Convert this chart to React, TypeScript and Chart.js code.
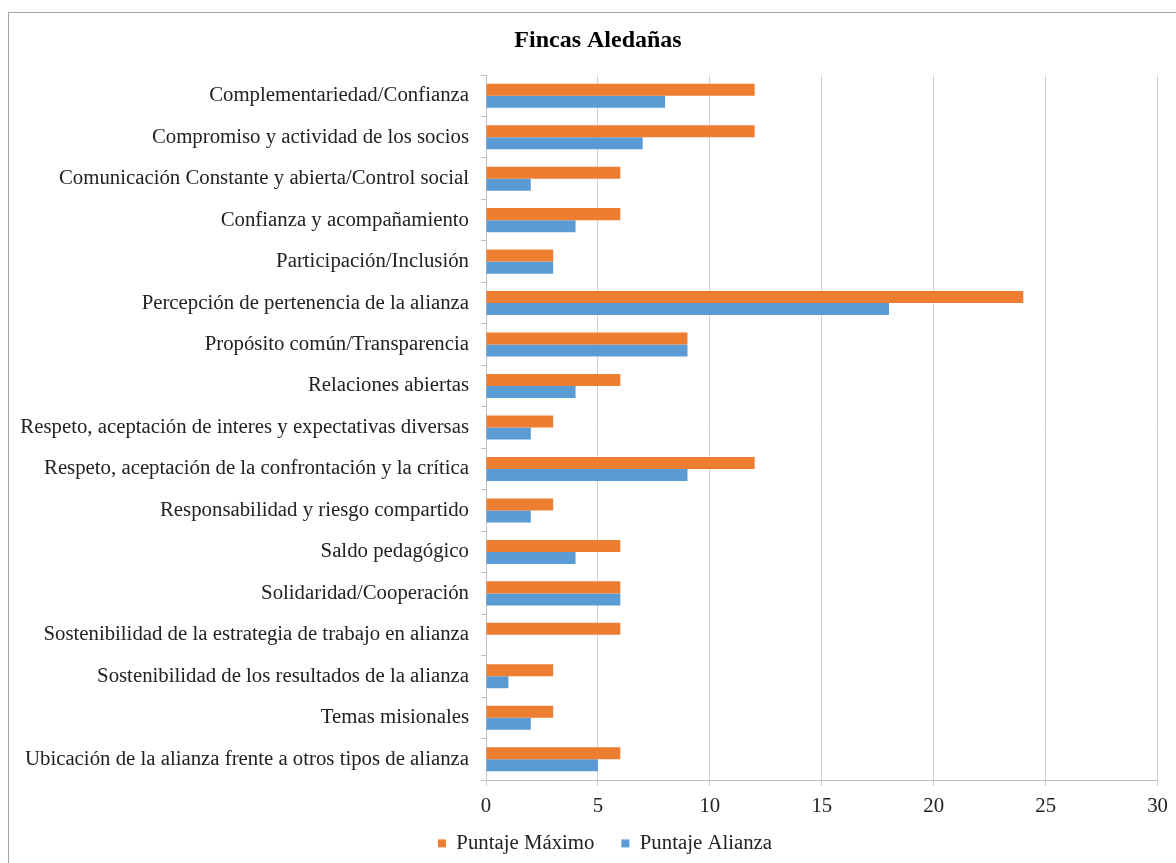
import React, { useEffect, useRef } from "react";
import { Chart, registerables } from "chart.js";

Chart.register(...registerables);

const chartTitle = "Fincas Aledañas";

const categories = [
  "Complementariedad/Confianza",
  "Compromiso y actividad de los socios",
  "Comunicación Constante y abierta/Control social",
  "Confianza y acompañamiento",
  "Participación/Inclusión",
  "Percepción de pertenencia de la alianza",
  "Propósito común/Transparencia",
  "Relaciones abiertas",
  "Respeto, aceptación de interes y expectativas diversas",
  "Respeto, aceptación de la confrontación y la crítica",
  "Responsabilidad y riesgo compartido",
  "Saldo pedagógico",
  "Solidaridad/Cooperación",
  "Sostenibilidad de la estrategia de trabajo en alianza",
  "Sostenibilidad de los resultados de la alianza",
  "Temas misionales",
  "Ubicación de la alianza frente a otros tipos de alianza",
];

const seriesNames = ["Puntaje Máximo", "Puntaje Alianza"];

const puntajeMaximo = [12, 12, 6, 6, 3, 24, 9, 6, 3, 12, 3, 6, 6, 6, 3, 3, 6];
const puntajeAlianza = [8, 7, 2, 4, 3, 18, 9, 4, 2, 9, 2, 4, 6, 0, 1, 2, 5];

const xMin = 0;
const xMax = 30;
const xStep = 5;

const FONT = '"Liberation Serif", "Times New Roman", serif';

const shiftPlugin = {
  id: "shiftBoxes",
  afterLayout(chart: any) {
    const t = chart.titleBlock;
    if (t) {
      t.left += 19;
      t.right += 19;
    }
    const l = chart.legend;
    if (l) {
      l.left += 26;
      l.right += 26;
      l.top -= 16;
    }
  },
};

export default function App() {
  const canvasRef = useRef<HTMLCanvasElement | null>(null);

  useEffect(() => {
    if (!canvasRef.current) return;
    const chart = new Chart(canvasRef.current, {
      type: "bar",
      data: {
        labels: categories,
        datasets: [
          {
            label: seriesNames[0],
            data: puntajeMaximo,
            backgroundColor: "#ED7D31",
            borderWidth: 0,
          },
          {
            label: seriesNames[1],
            data: puntajeAlianza,
            backgroundColor: "#5B9BD5",
            borderWidth: 0,
          },
        ],
      },
      options: {
        indexAxis: "y",
        responsive: false,
        maintainAspectRatio: false,
        animation: false,
        datasets: {
          bar: {
            categoryPercentage: 0.58,
            barPercentage: 1,
          },
        },
        layout: {
          padding: { left: 0, right: 18, top: 0, bottom: 0 },
        },
        plugins: {
          title: {
            display: true,
            text: chartTitle,
            color: "#000000",
            font: { family: FONT, size: 24, weight: "bold" },
            padding: { top: 26, bottom: 20.2 },
          },
          legend: {
            display: true,
            position: "bottom",
            maxHeight: 41,
            labels: {
              color: "#222222",
              font: { family: FONT, size: 20.8 },
              boxWidth: 8,
              boxHeight: 8,
              padding: 27,
            },
          },
          tooltip: { enabled: false },
        },
        scales: {
          x: {
            type: "linear",
            min: xMin,
            max: xMax,
            afterFit(scale: any) {
              scale.height = 42;
            },
            ticks: {
              stepSize: xStep,
              color: "#222222",
              font: { family: FONT, size: 20.8 },
              padding: 8,
            },
            grid: {
              color: "#cfcfcf",
              lineWidth: 1,
              tickLength: 6,
            },
            border: { color: "#bfbfbf" },
          },
          y: {
            type: "category",
            afterFit(scale: any) {
              scale.width = 486;
            },
            ticks: {
              color: "#222222",
              font: { family: FONT, size: 20.8 },
              padding: 12,
              autoSkip: false,
            },
            grid: {
              drawOnChartArea: false,
              drawTicks: true,
              tickLength: 5,
              color: "#bfbfbf",
              offset: true,
            },
            border: { color: "#bfbfbf" },
          },
        },
      },
      plugins: [shiftPlugin],
    });
    return () => chart.destroy();
  }, []);

  return (
    <div
      style={{
        position: "fixed",
        left: 0,
        top: 0,
        width: 1176,
        height: 863,
        overflow: "hidden",
        background: "#ffffff",
      }}
    >
      <div
        style={{
          position: "absolute",
          left: 8,
          top: 12,
          width: 1400,
          height: 1200,
          border: "1px solid #a6a6a6",
          boxSizing: "border-box",
          pointerEvents: "none",
        }}
      />
      <canvas
        ref={canvasRef}
        width={1176}
        height={863}
        style={{ position: "absolute", left: 0, top: 0, width: 1176, height: 863 }}
      />
    </div>
  );
}
